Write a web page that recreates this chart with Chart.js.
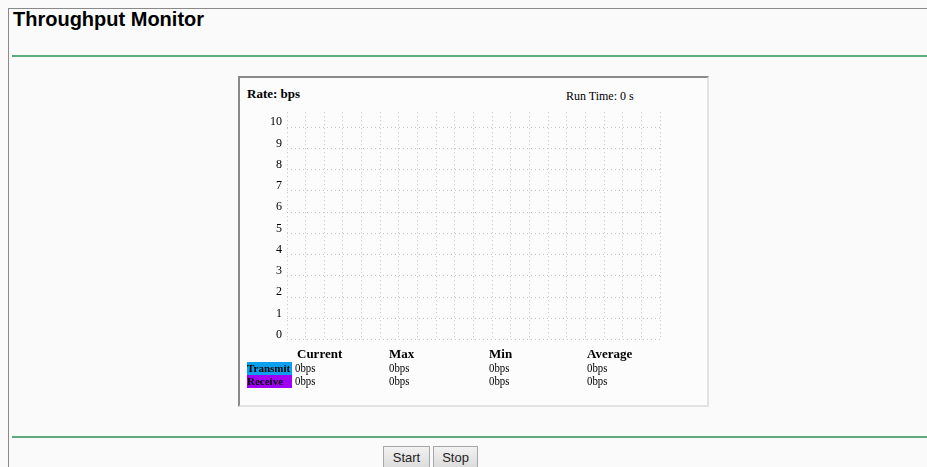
<!DOCTYPE html>
<html>
<head>
<meta charset="utf-8">
<script src="https://cdn.jsdelivr.net/npm/chart.js@4"></script>
<style>
  html, body { margin: 0; padding: 0; width: 927px; height: 467px; overflow: hidden; background: #fafafa; }
  .frame { position: absolute; left: 8px; top: 8px; width: 940px; height: 480px; border-left: 1px solid #8a8a8a; border-top: 1px solid #8a8a8a; }
  h1 { position: absolute; left: 13px; top: 8px; margin: 0; font: bold 20px "Liberation Sans", Arial, sans-serif; color: #000; }
  .hr { position: absolute; left: 12px; width: 915px; height: 0; border-top: 2px solid #5fa97e; }
  .box { position: absolute; left: 238px; top: 76px; width: 467px; height: 327px; background: #fcfcfc;
         border-left: 2px solid #8a8a8a; border-top: 2px solid #8a8a8a; border-right: 2px solid #e2e2e2; border-bottom: 2px solid #e2e2e2; }
  .rate { position: absolute; left: 7px; top: 8px; font: bold 13px "Liberation Serif", serif; }
  .runtime { position: absolute; left: 326px; top: 11px; font: 12px "Liberation Serif", serif; }
  #chartWrap { position: absolute; left: 0px; top: 22px; width: 440px; height: 252px; }
  table { position: absolute; left: 7px; top: 268px; border-collapse: collapse; font-family: "Liberation Serif", serif; }
  td, th { padding: 0; line-height: 12px; text-align: left; vertical-align: top; }
  th { font-size: 13px; font-weight: bold; height: 16px; line-height: 16px; padding-left: 3px; }
  td { font-size: 11px; height: 13px; }
  td.name { font-weight: bold; width: 45px; }
  td span { display: inline-block; font-size: 12px; transform: scaleX(0.9); transform-origin: left; }
  .btn { position: absolute; top: 446px; height: 22px; font: 13px "Liberation Sans", Arial, sans-serif; color: #222;
         background: linear-gradient(#f2f2f2, #dcdcdc); border: 1px solid #a6a6a6; box-sizing: border-box; padding: 0; }
</style>
</head>
<body>
<div class="frame"></div>
<h1>Throughput Monitor</h1>
<div class="hr" style="top:55px"></div>
<div class="box">
  <div class="rate">Rate: bps</div>
  <div class="runtime">Run Time: 0 s</div>
  <div id="chartWrap"><canvas id="rateChart"></canvas></div>
  <table id="stats"></table>
</div>
<div class="hr" style="top:436px"></div>
<button class="btn" style="left:383px;width:47px">Start</button>
<button class="btn" style="left:433px;width:45px">Stop</button>
<script>
  // samples so far (run time 0 s -> nothing collected yet)
  const timeSlots = [];
  const transmitBps = [];
  const receiveBps = [];

  const yTicks = [0, 1, 2, 3, 4, 5, 6, 7, 8, 9, 10];
  const xSlots = 20;

  const statNames = ['Current', 'Max', 'Min', 'Average'];
  const seriesNames = ['Transmit', 'Receive'];
  const seriesColors = ['#0ba0ee', '#a100f8'];
  const transmitStats = [0, 0, 0, 0];
  const receiveStats = [0, 0, 0, 0];

  // stats table under the graph
  const colWidths = [89, 97, 95, 77];
  const table = document.getElementById('stats');
  let html = '<tr><th style="padding:0"></th>' + statNames.map((n, i) =>
    `<th style="width:${colWidths[i]}px${i === 0 ? ';padding-left:5px' : ''}">${n}</th>`).join('') + '</tr>';
  [transmitStats, receiveStats].forEach((row, r) => {
    html += `<tr><td class="name" style="background:${seriesColors[r]}">${seriesNames[r]}</td>` +
      row.map(v => `<td style="padding-left:3px"><span>${v}bps</span></td>`).join('') + '</tr>';
  });
  table.innerHTML = html;

  const dotted = { color: '#c4c4c4', lineWidth: 1, drawTicks: false };

  new Chart(document.getElementById('rateChart'), {
    type: 'line',
    data: {
      labels: timeSlots,
      datasets: [
        { label: 'Transmit', data: transmitBps, borderColor: seriesColors[0], borderWidth: 1, pointRadius: 0 },
        { label: 'Receive', data: receiveBps, borderColor: seriesColors[1], borderWidth: 1, pointRadius: 0 }
      ]
    },
    options: {
      responsive: true,
      maintainAspectRatio: false,
      animation: false,
      layout: { padding: { top: 12, right: 20, bottom: 10, left: 0 } },
      plugins: { legend: { display: false }, tooltip: { enabled: false } },
      scales: {
        x: {
          type: 'linear', min: 0, max: xSlots,
          ticks: { display: false, stepSize: 1 },
          grid: dotted,
          border: { display: false, dash: [1, 3] },
          afterFit: s => { s.height = 0; }
        },
        y: {
          min: 0, max: 10.7,
          afterBuildTicks: s => { s.ticks = yTicks.map(v => ({ value: v })); },
          ticks: { color: '#000', padding: 5, labelOffset: -5, font: { family: 'Liberation Serif', size: 12 } },
          grid: dotted,
          border: { display: false, dash: [1, 3] },
          afterFit: s => { s.width = 47; }
        }
      }
    }
  });
</script>
</body>
</html>
